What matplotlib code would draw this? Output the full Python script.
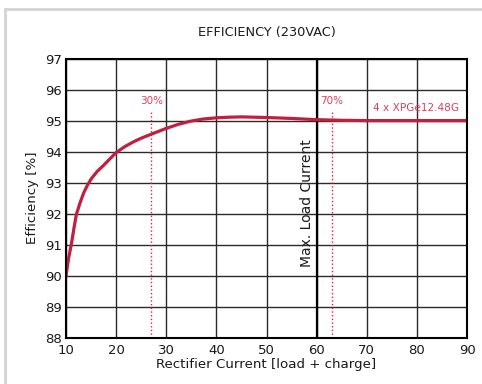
import matplotlib.pyplot as plt
from matplotlib.patches import Rectangle

# efficiency curve
current = [10, 10.5, 11.1, 11.6, 12.1, 12.8, 13.5, 14.3, 15.1, 16.2, 17.5, 18.7, 20,
           21.7, 23.5, 25.1, 26.8, 28.4, 30, 32.4, 34.8, 37.3, 40, 42.5, 45,
           50, 55, 60, 65, 70, 80, 90]
efficiency = [90.0, 90.55, 91.05, 91.55, 92.0, 92.35, 92.66, 92.93, 93.14, 93.36, 93.56, 93.76, 93.97,
              94.16, 94.32, 94.44, 94.55, 94.65, 94.75, 94.88, 94.98, 95.05, 95.09, 95.11, 95.12,
              95.1, 95.07, 95.03, 95.01, 95.0, 95.0, 95.0]

xticks = [10, 20, 30, 40, 50, 60, 70, 80, 90]
yticks = [88, 89, 90, 91, 92, 93, 94, 95, 96, 97]
max_load = 60
marks = {'30%': 27, '70%': 63}

red = '#c21f3f'
red_txt = '#e0405e'

fig = plt.figure(figsize=(4.82, 3.84), dpi=100)
fig.patches.append(Rectangle((5 / 482, -0.1), 1.1, 1 - 9 / 384 + 0.1,
                             transform=fig.transFigure, fill=False,
                             edgecolor='#d4d4d4', linewidth=2))
ax = fig.add_axes([66 / 482, 1 - 338 / 384, (467 - 66) / 482, (338 - 58.5) / 384])

ax.set_xlim(10, 90)
ax.set_ylim(88, 97)
ax.set_xticks(xticks)
ax.set_yticks(yticks)
ax.grid(True, color='#2a2a2a', linewidth=1)
ax.set_axisbelow(True)
ax.tick_params(length=0, labelsize=9.5, colors='#1a1a1a')
ax.tick_params(axis='x', pad=4)
ax.tick_params(axis='y', pad=3)
for lbl in ax.get_yticklabels():
    lbl.set_va('center_baseline')
for s in ax.spines.values():
    s.set_linewidth(1.5)
    s.set_color('black')

ax.axvline(max_load, color='black', linewidth=1.6)
ax.text(max_load - 0.6, 92.35, 'Max. Load Current', rotation=90,
        ha='right', va='center', fontsize=10, color='#1a1a1a')

for lab, xv in marks.items():
    ax.plot([xv, xv], [88, 95.33], color='#e0203a', linestyle=':', linewidth=1)
    ax.text(xv, 95.62, lab, color=red_txt, fontsize=7.5, ha='center', va='center')

ax.plot(current, efficiency, color=red, linewidth=2.3, solid_capstyle='round',
        solid_joinstyle='round')
ax.text(88.4, 95.42, '4 x XPGe12.48G', color=red_txt, fontsize=7.6, ha='right', va='center')

ax.set_title('EFFICIENCY (230VAC)', fontsize=9.3, pad=16, color='#1a1a1a')
ax.set_xlabel('Rectifier Current [load + charge]', fontsize=9.6, labelpad=1, color='#1a1a1a')
ax.set_ylabel('Efficiency [%]', fontsize=9.6, labelpad=4, color='#1a1a1a')

fig.savefig('out.png', dpi=100)
